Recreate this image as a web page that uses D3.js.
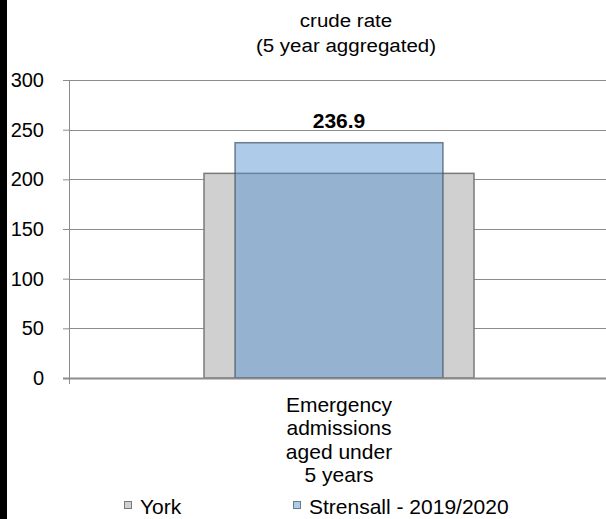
<!DOCTYPE html>
<html>
<head>
<meta charset="utf-8">
<script src="https://cdn.jsdelivr.net/npm/d3@7"></script>
<style>
  body { margin: 0; background: #fff; }
  svg { display: block; }
  text { font-family: "Liberation Sans", Arial, sans-serif; }
</style>
</head>
<body>
<div id="chart"></div>
<script>
// chart values
var categories = ["Emergency admissions aged under 5 years"];
var categoryLines = [["Emergency", "admissions", "aged under", "5 years"]];
var yorkValues = [206];
var strensallValues = [236.9];
var yTicks = [0, 50, 100, 150, 200, 250, 300];
var seriesNames = ["York", "Strensall - 2019/2020"];
var titleLines = ["crude rate", "(5 year aggregated)"];

var W = 606, H = 519;
var margin = { top: 80, right: -3, bottom: 141, left: 69 };
var w = W - margin.left - margin.right;
var h = H - margin.top - margin.bottom;
var fs = 21;

var svg = d3.select("#chart").append("svg")
    .attr("width", W)
    .attr("height", H);

// black strip on the left
svg.append("rect")
    .attr("x", 0).attr("y", 0)
    .attr("width", 7).attr("height", H)
    .attr("fill", "#000");

// title (a little wider than tall in the original)
svg.append("g").selectAll("text")
    .data(titleLines)
    .enter().append("text")
    .attr("transform", function (d, i) {
        return "translate(346," + (27 + i * 25) + ") scale(1.08,1)";
    })
    .attr("text-anchor", "middle")
    .attr("font-size", 19)
    .attr("fill", "#000")
    .text(function (d) { return d; });

var g = svg.append("g")
    .attr("transform", "translate(" + margin.left + "," + margin.top + ")");

var xScale = d3.scaleBand()
    .domain(categories)
    .range([0, w])
    .paddingInner(0.5)
    .paddingOuter(0.25);

var yScale = d3.scaleLinear()
    .domain([0, 300])
    .range([h, 0]);

// gridlines
g.append("g").selectAll("line")
    .data(yTicks.filter(function (d) { return d > 0; }))
    .enter().append("line")
    .attr("x1", 0).attr("x2", w)
    .attr("y1", function (d) { return Math.round(yScale(d)) + 0.5; })
    .attr("y2", function (d) { return Math.round(yScale(d)) + 0.5; })
    .attr("stroke", "#8c8c8c")
    .attr("stroke-width", 1);

// y axis
var yAxis = d3.axisLeft(yScale).tickValues(yTicks).tickSize(6).tickPadding(19);
var yAxis_g = g.append("g").call(yAxis);
yAxis_g.select(".domain").attr("stroke", "#8c8c8c");
yAxis_g.selectAll(".tick line").attr("stroke", "#8c8c8c");
yAxis_g.selectAll(".tick text")
    .attr("font-family", "Liberation Sans, Arial, sans-serif")
    .attr("font-size", 20)
    .attr("fill", "#000");

// bars - York (behind)
var bw = xScale.bandwidth();
g.append("g").selectAll("rect")
    .data(yorkValues)
    .enter().append("rect")
    .attr("x", function (d, i) { return xScale(categories[i]); })
    .attr("y", function (d) { return yScale(d); })
    .attr("width", bw)
    .attr("height", function (d) { return h - yScale(d); })
    .attr("fill", "#d0d0d0")
    .attr("stroke", "#7a7a7a")
    .attr("stroke-width", 1.5);

// bars - Strensall (front, see-through)
var sw = bw * 0.77;
g.append("g").selectAll("rect")
    .data(strensallValues)
    .enter().append("rect")
    .attr("x", function (d, i) { return xScale(categories[i]) + (bw - sw) / 2; })
    .attr("y", function (d) { return yScale(d); })
    .attr("width", sw)
    .attr("height", function (d) { return h - yScale(d); })
    .attr("fill", "rgb(83,145,208)")
    .attr("fill-opacity", 0.47)
    .attr("stroke", "#3e4e60")
    .attr("stroke-opacity", 0.7)
    .attr("stroke-width", 1.5);

// value label
g.append("g").selectAll("text")
    .data(strensallValues)
    .enter().append("text")
    .attr("x", function (d, i) { return xScale(categories[i]) + bw / 2; })
    .attr("y", function (d) { return yScale(d) - 15; })
    .attr("text-anchor", "middle")
    .attr("font-size", fs)
    .attr("font-weight", "bold")
    .attr("fill", "#000")
    .text(function (d) { return d.toFixed(1); });

// x axis line
g.append("line")
    .attr("x1", -6).attr("x2", w)
    .attr("y1", h + 0.5).attr("y2", h + 0.5)
    .attr("stroke", "#8c8c8c")
    .attr("stroke-width", 2);
g.append("line")
    .attr("x1", 0.5).attr("x2", 0.5)
    .attr("y1", h).attr("y2", h + 6)
    .attr("stroke", "#8c8c8c");

// category labels
categories.forEach(function (c, i) {
    g.append("g").selectAll("text")
        .data(categoryLines[i])
        .enter().append("text")
        .attr("x", xScale(c) + bw / 2)
        .attr("y", function (d, j) { return h + 34 + j * 23.3; })
        .attr("text-anchor", "middle")
        .attr("font-size", fs)
        .attr("fill", "#000")
        .text(function (d) { return d; });
});

// legend
var legendX = [124, 293];
var legendColors = [
    { fill: "#d0d0d0", stroke: "#7a7a7a" },
    { fill: "#aecbea", stroke: "#6a7a8a" }
];
var legend = svg.append("g").selectAll("g")
    .data(seriesNames)
    .enter().append("g")
    .attr("transform", function (d, i) { return "translate(" + legendX[i] + ",0)"; });
legend.append("rect")
    .attr("x", 0.5).attr("y", 501.5)
    .attr("width", 7).attr("height", 7)
    .attr("fill", function (d, i) { return legendColors[i].fill; })
    .attr("stroke", function (d, i) { return legendColors[i].stroke; });
legend.append("text")
    .attr("x", 16).attr("y", 514)
    .attr("font-size", fs)
    .attr("fill", "#000")
    .text(function (d) { return d; });
</script>
</body>
</html>
